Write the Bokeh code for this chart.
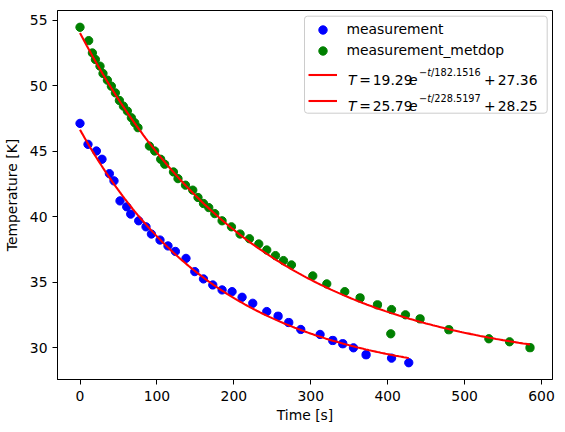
import numpy as np
from bokeh.plotting import figure
from bokeh.models import Range1d, FixedTicker, Legend, LegendItem, Label, BoxAnnotation
from bokeh.embed import file_html
from bokeh.resources import INLINE

# ---------------- data ----------------
blue_t = [0, 10.4, 21.3, 28.6, 38.2, 44.2, 52.0, 60.7, 65.9, 76.3, 85.8, 92.8, 104.0,
          114.4, 124.0, 137.8, 149.2, 160.5, 172.6, 184.7, 197.7, 210.7, 224.6, 242.8,
          257.5, 271.4, 287.0, 312.1, 328.6, 341.6, 355.5, 371.9, 405.0, 427.4]
blue_T = [47.13, 45.53, 45.02, 44.39, 43.29, 42.74, 41.21, 40.76, 40.20, 39.69, 39.23,
          38.68, 38.22, 37.77, 37.35, 36.82, 35.81, 35.25, 34.79, 34.41, 34.28, 33.85,
          33.39, 32.76, 32.40, 31.92, 31.39, 31.01, 30.55, 30.30, 29.99, 29.46, 29.20, 28.85]

green_t = [0, 11.3, 16.1, 20.0, 26.0, 29.9, 35.6, 40.8, 46.0, 51.2, 56.4, 61.6, 66.8,
           71.1, 75.4, 90.2, 97.1, 104.9, 110.1, 121.5, 127.4, 137.1, 146.6, 153.4,
           160.5, 167.4, 175.2, 184.7, 196.9, 208.1, 220.3, 232.4, 242.8, 254.1, 264.5,
           274.9, 302.6, 320.8, 344.2, 364.1, 386.7, 404.0, 405.0, 423.1, 442.1, 479.5,
           531.5, 558.4, 585.0]
green_T = [54.47, 53.45, 52.51, 52.01, 51.50, 50.94, 50.43, 49.97, 49.46, 48.88, 48.45,
           48.07, 47.56, 47.18, 46.80, 45.40, 45.02, 44.39, 44.01, 43.42, 42.91, 42.41,
           42.03, 41.47, 41.01, 40.70, 40.24, 39.69, 39.23, 38.68, 38.32, 37.92, 37.46,
           37.03, 36.65, 36.32, 35.48, 34.87, 34.28, 33.80, 33.27, 31.06, 32.91, 32.51,
           32.20, 31.37, 30.68, 30.45, 30.00]

# fit parameters (amplitude, tau, offset) as given in the legend
fit1 = [19.29, 182.1516, 27.36]
fit2 = [25.79, 228.5197, 28.25]
fit1_text = ["19.29", "182.1516", "27.36"]
fit2_text = ["25.79", "228.5197", "28.25"]

series_names = ["measurement", "measurement_metdop"]
x_ticks = [0, 100, 200, 300, 400, 500, 600]
y_ticks = [30, 35, 40, 45, 50, 55]

# ---------------- style ----------------
FONT = "DejaVu Sans"
FS = 13.9
FSS = f"{FS}px"
SUP = 0.7 * FS

# frame placement on the page (px)
FL, FT, FR, FB = 57, 10, 552, 379
W, H = 565, 432

all_t = blue_t + green_t
all_T = blue_T + green_T
tx = 0.05 * (max(all_t) - min(all_t))
ty = 0.05 * (max(all_T) - min(all_T))

p = figure(width=W, height=H, output_backend="svg", toolbar_location=None,
           x_range=Range1d(min(all_t) - tx, max(all_t) + tx),
           y_range=Range1d(min(all_T) - ty, max(all_T) + ty),
           x_axis_label="Time [s]", y_axis_label="Temperature [K]")
p.min_border_left = FL
p.min_border_right = W - FR
p.min_border_top = FT
p.min_border_bottom = H - FB
p.grid.visible = False
p.outline_line_color = "black"
p.outline_line_width = 1
p.outline_line_alpha = 1
p.background_fill_color = "white"
p.border_fill_color = "white"

p.xaxis.ticker = FixedTicker(ticks=x_ticks)
p.yaxis.ticker = FixedTicker(ticks=y_ticks)
for ax in (p.xaxis[0], p.yaxis[0]):
    ax.major_tick_in = 0
    ax.major_tick_out = 5
    ax.minor_tick_in = 0
    ax.minor_tick_out = 0
    ax.major_tick_line_color = "black"
    ax.axis_line_color = "black"
    ax.major_label_text_font = FONT
    ax.major_label_text_font_size = FSS
    ax.major_label_text_color = "black"
    ax.axis_label_text_font = FONT
    ax.axis_label_text_font_size = FSS
    ax.axis_label_text_font_style = "normal"
    ax.axis_label_text_color = "black"
p.xaxis.major_label_standoff = 6
p.xaxis.axis_label_standoff = 3
p.yaxis.major_label_standoff = 5
p.yaxis.axis_label_standoff = 7

MS = 8.3
r_blue = p.scatter(blue_t, blue_T, size=MS, color="#0000ff")
r_green = p.scatter(green_t, green_T, size=MS, color="#008000")

t1 = np.linspace(0, max(blue_t), 200)
t2 = np.linspace(0, max(green_t), 200)
r_fit1 = p.line(t1, fit1[0] * np.exp(-t1 / fit1[1]) + fit1[2], color="#ff0000", line_width=2.08)
r_fit2 = p.line(t2, fit2[0] * np.exp(-t2 / fit2[1]) + fit2[2], color="#ff0000", line_width=2.08)

# ---------------- legend ----------------
def sx(X):   # page x -> frame-relative screen x
    return X - FL
def sy(Y):   # page y -> frame-relative screen y (up)
    return FB - Y

box = BoxAnnotation(left=sx(304), right=sx(546.7), top=sy(15.7), bottom=sy(112.7),
                    left_units="screen", right_units="screen",
                    top_units="screen", bottom_units="screen",
                    fill_color="white", fill_alpha=0.8,
                    line_color="#cccccc", line_alpha=1.0, line_width=1,
                    border_radius=3)
p.add_layout(box)

common = dict(orientation="vertical", padding=0, margin=0, glyph_width=29,
              label_standoff=10, border_line_alpha=0, background_fill_alpha=0,
              label_text_font=FONT, label_text_font_size=FSS, label_text_color="black")
# rows centred at page y = 29, 50 (markers) and 74, 100 (lines)
legA = Legend(items=[LegendItem(label=series_names[0], renderers=[r_blue]),
                     LegendItem(label=series_names[1], renderers=[r_green])],
              location=(sx(307.5), sy(29 - 10.5 + 42)), spacing=0, glyph_height=21,
              label_height=21, **common)
legB = Legend(items=[LegendItem(label=" ", renderers=[r_fit1]),
                     LegendItem(label=" ", renderers=[r_fit2])],
              location=(sx(307.5), sy(74 - 11.5 + 49)), spacing=3, glyph_height=23,
              label_height=23, **common)
p.add_layout(legA)
p.add_layout(legB)

# DejaVu Sans advance widths (em) for laying out the superscript
ADV = {"t": 0.392, "/": 0.337, "\u2212": 0.838, ".": 0.318}
def width(s, size):
    return sum(ADV.get(c, 0.636) for c in s) * size

def lab(X, Y, s, size, style):
    p.add_layout(Label(x=sx(X), y=sy(Y), x_units="screen", y_units="screen", text=s,
                       text_font=FONT, text_font_size=f"{size:.2f}px",
                       text_font_style=style, text_color="black",
                       text_baseline="alphabetic", text_align="left"))

SUP_SHIFT = 8.0
def math_row(base, txt):
    amp, tau, off = txt
    lab(347.6, base, "T", FS, "italic")
    lab(358.8, base, "=", FS, "normal")
    lab(372.2, base, amp, FS, "normal")
    lab(408.6, base, "e", FS, "italic")
    x = 418.6
    sb = base - SUP_SHIFT
    for s, style in (("\u2212", "normal"), ("t", "italic"), ("/" + tau, "normal")):
        lab(x, sb, s, SUP, style)
        x += width(s, SUP)
    lab(483.6, base, "+", FS, "normal")
    lab(497.2, base, off, FS, "normal")

math_row(79.8, fit1_text)
math_row(105.8, fit2_text)

open("out.html", "w").write(file_html(p, INLINE))
